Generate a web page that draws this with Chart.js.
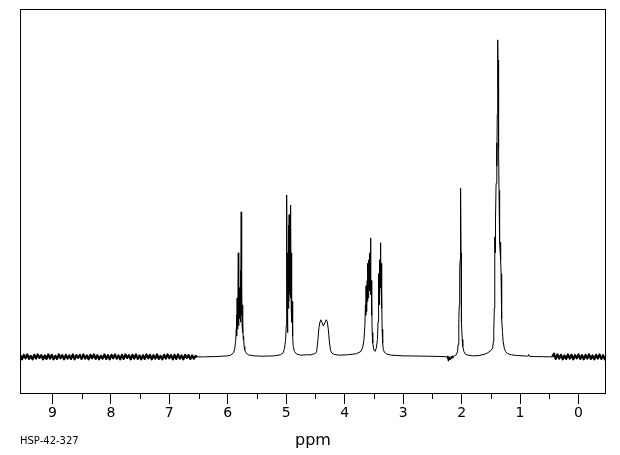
<!DOCTYPE html>
<html>
<head>
<meta charset="utf-8">
<script src="https://cdn.jsdelivr.net/npm/chart.js@4.4.0/dist/chart.umd.min.js"></script>
<style>
  html, body { margin: 0; padding: 0; background: #fff; }
  #wrap { width: 620px; height: 455px; }
</style>
</head>
<body>
<div id="wrap"><canvas id="spectrum"></canvas></div>
<script>
// chemical shift (ppm) and intensity (% of full scale)
var noiseLeftPpm = [9.55,9.52,9.49,9.46,9.43,9.40,9.37,9.34,9.31,9.28,
  9.25,9.22,9.19,9.16,9.13,9.10,9.07,9.04,9.01,8.98,
  8.95,8.92,8.89,8.86,8.83,8.80,8.77,8.74,8.71,8.68,
  8.65,8.62,8.59,8.56,8.53,8.50,8.47,8.44,8.41,8.38,
  8.35,8.32,8.29,8.26,8.23,8.20,8.17,8.14,8.11,8.08,
  8.05,8.02,7.99,7.96,7.93,7.90,7.87,7.84,7.81,7.78,
  7.75,7.72,7.69,7.66,7.63,7.60,7.57,7.54,7.51,7.48,
  7.45,7.42,7.39,7.36,7.33,7.30,7.27,7.24,7.21,7.18,
  7.15,7.12,7.09,7.06,7.03,7.00,6.97,6.94,6.91,6.88,
  6.85,6.82,6.79,6.76,6.73,6.70,6.67,6.64,6.61,6.58,
  6.55,6.52];
var noiseLeftInt = [0.5,-0.7,0.6,-0.4,0.7,-0.6,0.3,-0.7,0.6,-0.5,
  0.7,-0.3,0.5,-0.7,0.4,-0.6,0.7,-0.5,0.6,-0.7,
  0.3,-0.6,0.7,-0.4,0.5,-0.7,0.6,-0.5,0.4,-0.6,
  0.7,-0.7,0.5,-0.3,0.6,-0.6,0.7,-0.5,0.4,-0.7,
  0.6,-0.4,0.7,-0.6,0.5,-0.7,0.3,-0.5,0.7,-0.6,
  0.5,-0.7,0.6,-0.4,0.7,-0.5,0.4,-0.7,0.6,-0.6,
  0.7,-0.3,0.5,-0.7,0.6,-0.5,0.7,-0.6,0.4,-0.7,
  0.5,-0.6,0.7,-0.4,0.6,-0.7,0.5,-0.5,0.7,-0.6,
  0.3,-0.7,0.6,-0.5,0.7,-0.4,0.5,-0.7,0.6,-0.6,
  0.7,-0.5,0.4,-0.7,0.6,-0.3,0.5,-0.6,0.4,-0.5,
  0.3,0];

var vinylPpm = [6.52,6.40,6.20,6.00,5.95,5.90,5.88,5.865,5.855,5.85,5.845,
  5.84,5.835,5.83,5.825,5.82,5.815,5.81,5.805,5.80,5.795,
  5.79,5.785,5.78,5.775,5.77,5.765,5.76,5.755,5.75,5.745,
  5.74,5.735,5.73,5.72,5.71,5.69,5.65,5.55,5.40,5.20];
var vinylInt = [0,0,0.1,0.3,0.5,1.2,2.5,4.5,8,12,6,
  17,8,14,10,30,9,18,11,20,12,
  19,10,25,14,41.8,12,17,9,15,7,
  10,5,6,3,2,1.2,0.6,0.3,0.2,0.3];

var methylenePpm = [5.10,5.05,5.03,5.01,5.00,4.995,4.99,4.985,4.98,4.975,
  4.97,4.965,4.96,4.955,4.95,4.945,4.94,4.935,4.93,4.925,
  4.92,4.915,4.91,4.905,4.90,4.89,4.88,4.86,4.82,4.75,4.65];
var methyleneInt = [0.6,1.2,2.5,5,9,20,46.7,18,7,12,
  30,14,38,16,41,18,40,20,43.8,17,
  39,14,30,10,16,6,3,1.6,0.8,0.5,0.6];

var broadPpm = [4.58,4.54,4.52,4.50,4.48,4.46,4.44,4.42,4.41,4.39,
  4.365,4.34,4.315,4.30,4.28,4.26,4.24,4.22,4.18,4.10,3.95];
var broadInt = [0.6,0.8,0.9,1.0,1.5,4.5,8.5,10.3,10.7,10.0,
  8.9,9.8,10.7,10.2,8.0,4.0,1.8,1.1,0.7,0.5,0.6];

var oxyPpm = [3.80,3.72,3.69,3.67,3.655,3.645,3.64,3.635,3.63,3.625,
  3.62,3.615,3.61,3.605,3.60,3.595,3.59,3.585,3.58,3.575,
  3.57,3.565,3.56,3.555,3.55,3.545,3.54,3.535,3.53,3.52,
  3.50,3.48,3.46,3.44,3.43,3.425,3.42,3.415,3.41,3.405,
  3.40,3.395,3.39,3.385,3.38,3.375,3.37,3.365,3.36,3.35,
  3.34,3.32,3.28,3.20,3.00,2.60,2.30];
var oxyInt = [0.9,1.6,2.8,5,9,15,12,20.5,14,19,
  13,22,16,27,17,24,18,28,20,30,
  19,26,22,34.3,18,22,12,15,7,4,
  2,1.6,2.5,5,10,18,12,24,15,28,
  18,26,20,32.9,20,27,14,18,8,4,
  2.2,1.3,0.8,0.5,0.3,0.2,0.1];

var acetylPpm = [2.25,2.24,2.235,2.23,2.225,2.22,2.215,2.21,2.20,2.19,
  2.18,2.17,2.16,2.15,2.14,2.12,2.09,2.07,2.06,2.05,
  2.045,2.04,2.035,2.03,2.025,2.02,2.015,2.01,2.005,2.00,
  1.99,1.98,1.96,1.94,1.90,1.80];
var acetylInt = [0,-0.5,0.3,-1.2,-0.2,-1.0,0,-0.9,-0.1,-0.8,
  0.1,-0.5,0.3,-0.3,0.2,0.3,0.6,1.5,3.5,7,
  11,15,20,25.6,28,40,48.6,30,18,10,
  5,3,1.5,0.9,0.5,0.3];

var alkylPpm = [1.70,1.60,1.55,1.50,1.47,1.455,1.45,1.44,1.435,1.43,
  1.425,1.42,1.41,1.40,1.395,1.39,1.385,1.38,1.375,1.37,
  1.365,1.36,1.355,1.35,1.345,1.34,1.335,1.33,1.325,1.32,
  1.315,1.31,1.30,1.29,1.27,1.25,1.22,1.15,1.05,0.95,
  0.87,0.86,0.855,0.845,0.75,0.60,0.45];
var alkylInt = [0.4,0.8,1.2,1.8,2.5,4.5,7.5,14,24,34.6,
  30,40,50,61.7,55,70,85,91.4,80,85.6,
  60,48,40,36,33,30,33,28,24,18,
  14,11,7,4.5,2.5,1.6,1.0,0.6,0.4,0.3,
  0.2,0.4,0.7,0.2,0.1,0.05,0];

var noiseRightPpm = [0.45,0.42,0.39,0.36,0.33,0.30,0.27,0.24,0.21,0.18,
  0.15,0.12,0.09,0.06,0.03,0.00,-0.03,-0.06,-0.09,-0.12,
  -0.15,-0.18,-0.21,-0.24,-0.27,-0.30,-0.33,-0.36,-0.39,-0.42,
  -0.45,-0.48];
var noiseRightInt = [0,0.9,-0.6,0.7,-0.5,0.6,-0.7,0.4,-0.6,0.7,
  -0.5,0.6,-0.7,0.5,-0.4,0.7,-0.6,0.5,-0.7,0.6,
  -0.5,0.7,-0.6,0.4,-0.7,0.6,-0.5,0.7,-0.6,0.5,
  -0.7,0.6];

var ppmTicks = [9, 8, 7, 6, 5, 4, 3, 2, 1, 0];
var halfTicks = [8.5, 7.5, 6.5, 5.5, 4.5, 3.5, 2.5, 1.5, 0.5];

function points(ppm, vals) {
  return ppm.map(function (p, i) { return { x: p, y: vals[i] }; });
}

var signal = [].concat(
  points(vinylPpm, vinylInt),
  points(methylenePpm, methyleneInt),
  points(broadPpm, broadInt),
  points(oxyPpm, oxyInt),
  points(acetylPpm, acetylInt),
  points(alkylPpm, alkylInt)
);

// frame round the plot, half-ppm minor ticks and the spectrum code
var frame = {
  id: 'frame',
  afterDraw: function (chart) {
    var ctx = chart.ctx, a = chart.chartArea, xs = chart.scales.x;
    ctx.save();
    ctx.strokeStyle = '#000';
    ctx.lineWidth = 1;
    ctx.strokeRect(a.left + 0.5, a.top + 0.5, a.right - a.left - 1, a.bottom - a.top - 1);
    ctx.beginPath();
    halfTicks.forEach(function (t) {
      var px = Math.round(xs.getPixelForValue(t)) + 0.5;
      ctx.moveTo(px, a.bottom);
      ctx.lineTo(px, a.bottom + 5);
    });
    ctx.stroke();
    ctx.fillStyle = '#000';
    ctx.font = '10px "DejaVu Sans"';
    ctx.textBaseline = 'middle';
    ctx.fillText('HSP-42-327', a.left, 441);
    ctx.restore();
  }
};

Chart.defaults.font.family = '"DejaVu Sans", sans-serif';

var lineStyle = {
  borderColor: '#000',
  borderJoinStyle: 'round',
  pointRadius: 0,
  tension: 0,
  fill: false
};

new Chart(document.getElementById('spectrum'), {
  type: 'line',
  data: {
    datasets: [
      Object.assign({ data: points(noiseLeftPpm, noiseLeftInt), borderWidth: 2.2 }, lineStyle),
      Object.assign({ data: signal, borderWidth: 1 }, lineStyle),
      Object.assign({ data: points(noiseRightPpm, noiseRightInt), borderWidth: 2.2 }, lineStyle)
    ]
  },
  options: {
    responsive: true,
    maintainAspectRatio: false,
    animation: false,
    layout: { padding: { left: 20, right: 14, top: 9, bottom: 0 } },
    plugins: { legend: { display: false }, tooltip: { enabled: false } },
    scales: {
      x: {
        type: 'linear',
        reverse: true,
        min: -0.47,
        max: 9.554,
        afterFit: function (axis) { axis.height = 61; },
        border: { display: false },
        grid: { drawOnChartArea: false, tickLength: 10, tickColor: '#000' },
        ticks: {
          stepSize: 1,
          includeBounds: false,
          autoSkip: false,
          maxRotation: 0,
          padding: 1,
          color: '#000',
          font: { size: 14 },
          callback: function (v) { return ppmTicks.indexOf(v) >= 0 ? String(v) : ''; }
        },
        title: {
          display: true,
          text: 'ppm',
          color: '#000',
          font: { size: 16 },
          padding: { top: 0, bottom: 5 }
        }
      },
      y: {
        display: false,
        min: -10.7,
        max: 100.3
      }
    }
  },
  plugins: [frame]
});
</script>
</body>
</html>
